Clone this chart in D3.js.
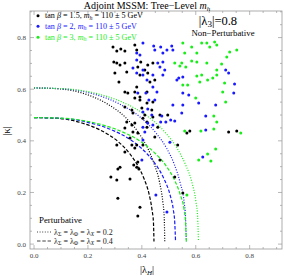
<!DOCTYPE html>
<html>
<head>
<meta charset="utf-8">
<script src="https://cdn.jsdelivr.net/npm/d3@7"></script>
<style>
  body { margin: 0; background: #fff; }
  text { font-family: "Liberation Serif", "Times New Roman", serif; }
</style>
</head>
<body>
<div id="chart"></div>
<script>
// scatter points [|lambda_H|, |kappa|]
var blackPts = [
  [0.293,0.764],[0.307,0.748],[0.322,0.756],[0.337,0.748],[0.296,0.705],[0.307,0.702],[0.319,0.694],
  [0.337,0.702],[0.300,0.663],[0.344,0.667],[0.315,0.628],[0.374,0.771],[0.381,0.752],[0.385,0.686],
  [0.393,0.655],[0.396,0.705],[0.422,0.694],[0.441,0.702],[0.411,0.674],[0.422,0.663],[0.430,0.628],
  [0.448,0.636],[0.337,0.589],[0.348,0.585],[0.374,0.589],[0.381,0.609],[0.419,0.589],[0.393,0.570],
  [0.374,0.566],[0.393,0.558],[0.419,0.547],[0.441,0.550],[0.400,0.527],[0.363,0.519],[0.337,0.531],
  [0.437,0.519],[0.441,0.492],[0.411,0.500],[0.467,0.500],[0.496,0.500],[0.367,0.508],[0.344,0.473],
  [0.363,0.461],[0.374,0.469],[0.419,0.473],[0.404,0.488],[0.459,0.453],[0.337,0.450],[0.367,0.434],
  [0.385,0.430],[0.419,0.453],[0.356,0.411],[0.448,0.415],[0.363,0.384],[0.381,0.384],[0.404,0.384],
  [0.307,0.384],[0.374,0.372],[0.337,0.357],[0.533,0.384],[0.567,0.430],[0.578,0.438],[0.722,0.434],
  [0.752,0.438],[0.319,0.298],[0.381,0.298],[0.467,0.326],[0.370,0.306],[0.389,0.291],[0.385,0.318],
  [0.285,0.260],[0.307,0.248],[0.311,0.291],[0.311,0.178],[0.356,0.252],[0.393,0.143],[0.385,0.109],
  [0.522,0.260],[0.552,0.198]
];
var bluePts = [
  [0.404,0.779],[0.381,0.740],[0.381,0.713],[0.393,0.733],[0.444,0.767],[0.448,0.752],[0.470,0.764],
  [0.511,0.767],[0.515,0.752],[0.478,0.740],[0.493,0.752],[0.459,0.702],[0.478,0.705],[0.367,0.682],
  [0.381,0.663],[0.404,0.674],[0.404,0.655],[0.441,0.655],[0.485,0.674],[0.478,0.655],[0.467,0.686],
  [0.530,0.636],[0.537,0.643],[0.552,0.647],[0.552,0.585],[0.574,0.578],[0.515,0.539],[0.552,0.539],
  [0.548,0.508],[0.611,0.547],[0.674,0.539],[0.744,0.620],[0.741,0.585],[0.711,0.674],[0.722,0.663],
  [0.441,0.609],[0.456,0.589],[0.415,0.585],[0.426,0.558],[0.448,0.558],[0.422,0.523],[0.437,0.500],
  [0.474,0.496],[0.489,0.473],[0.507,0.481],[0.522,0.477],[0.470,0.473],[0.637,0.496],[0.637,0.442],
  [0.441,0.461],[0.404,0.453],[0.411,0.434],[0.504,0.395],[0.626,0.337],[0.385,0.585],[0.419,0.636],
  [0.404,0.512],[0.422,0.469],[0.404,0.403],[0.400,0.326],[0.452,0.190],[0.493,0.124]
];
var greenPts = [
  [0.552,0.779],[0.559,0.740],[0.585,0.764],[0.604,0.740],[0.622,0.779],[0.641,0.779],[0.652,0.764],
  [0.670,0.783],[0.678,0.771],[0.726,0.744],[0.752,0.752],[0.715,0.725],[0.641,0.702],[0.604,0.705],
  [0.548,0.702],[0.522,0.702],[0.541,0.690],[0.563,0.686],[0.585,0.709],[0.696,0.698],[0.678,0.655],
  [0.678,0.674],[0.663,0.643],[0.644,0.636],[0.622,0.655],[0.604,0.651],[0.615,0.628],[0.552,0.616],
  [0.570,0.616],[0.707,0.624],[0.700,0.589],[0.600,0.566],[0.711,0.550],[0.667,0.496],[0.678,0.473],
  [0.559,0.438],[0.619,0.438],[0.667,0.446],[0.767,0.430],[0.674,0.368],[0.644,0.349],[0.611,0.326],
  [0.656,0.322],[0.567,0.190]
];

// perturbativity boundaries
var kappaDashed = [0.49,0.487,0.469,0.442,0.397,0.349,0.300,0.251,0.193,0.131,0.085,0.01];
var kappaDotted = [0.605,0.601,0.580,0.546,0.490,0.431,0.371,0.310,0.238,0.162,0.105,0.01];
var lamBlackDashed = [0,0.089,0.178,0.245,0.312,0.356,0.387,0.409,0.427,0.438,0.443,0.445];
var lamBlueDashed  = [0,0.105,0.210,0.289,0.368,0.420,0.457,0.483,0.504,0.517,0.522,0.525];
var lamGreenDashed = [0,0.113,0.226,0.311,0.396,0.452,0.492,0.520,0.542,0.557,0.562,0.565];
var lamBlackDotted = [0,0.097,0.194,0.267,0.340,0.388,0.422,0.446,0.466,0.478,0.483,0.485];
var lamBlueDotted  = [0,0.113,0.226,0.311,0.396,0.452,0.492,0.520,0.542,0.557,0.562,0.565];
var lamGreenDotted = [0,0.122,0.244,0.336,0.427,0.488,0.531,0.561,0.586,0.601,0.607,0.610];

var tickVals = [0.0, 0.2, 0.4, 0.6, 0.8];
var tickLabels = ["0.0", "0.2", "0.4", "0.6", "0.8"];

var W = 285, H = 276;
var svg = d3.select("#chart").append("svg")
  .attr("width", W).attr("height", H);
svg.append("rect").attr("width", W).attr("height", H).attr("fill", "#fff");

var x = d3.scaleLinear().domain([-0.015, 0.92]).range([30, 282]);
var y = d3.scaleLinear().domain([-0.019, 0.903]).range([249, 11]);

var frameCol = "#999", labCol = "#444";

// frame
svg.append("rect")
  .attr("x", 30).attr("y", 11).attr("width", 252).attr("height", 238)
  .attr("fill", "none").attr("stroke", frameCol).attr("stroke-width", 0.8);

// ticks (inward, all sides)
var minor = d3.range(0, 0.91, 0.05);
var tg = svg.append("g").attr("stroke", frameCol).attr("stroke-width", 0.7);
minor.forEach(function(v) {
  var major = Math.abs(v * 5 - Math.round(v * 5)) < 1e-6;
  var len = major ? 4 : 2;
  if (x(v) <= 282) {
    tg.append("line").attr("x1", x(v)).attr("x2", x(v)).attr("y1", 249).attr("y2", 249 - len);
    tg.append("line").attr("x1", x(v)).attr("x2", x(v)).attr("y1", 11).attr("y2", 11 + len);
  }
  if (y(v) >= 11) {
    tg.append("line").attr("y1", y(v)).attr("y2", y(v)).attr("x1", 30).attr("x2", 30 + len);
    tg.append("line").attr("y1", y(v)).attr("y2", y(v)).attr("x1", 282).attr("x2", 282 - len);
  }
});

svg.selectAll(".xl").data(tickVals).join("text")
  .attr("x", d => x(d)).attr("y", 258)
  .attr("text-anchor", "middle").attr("font-size", 7).attr("fill", labCol)
  .text((d, i) => tickLabels[i]);
svg.selectAll(".yl").data(tickVals).join("text")
  .attr("x", 26).attr("y", d => y(d) + 2.5)
  .attr("text-anchor", "end").attr("font-size", 7).attr("fill", labCol)
  .text((d, i) => tickLabels[i]);

// boundary curves
var line = d3.line().x(d => x(d[0])).y(d => y(d[1])).curve(d3.curveMonotoneX);
var curves = [
  { lam: lamBlackDashed, k: kappaDashed, c: "#000", dash: "3.5,1.8" },
  { lam: lamBlackDotted, k: kappaDotted, c: "#000", dash: "1,1.6" },
  { lam: lamBlueDashed, k: kappaDashed, c: "#1a1aff", dash: "3.5,1.8" },
  { lam: lamBlueDotted, k: kappaDotted, c: "#1a1aff", dash: "1,1.6" },
  { lam: lamGreenDashed, k: kappaDashed, c: "#1aee1a", dash: "3.5,1.8" },
  { lam: lamGreenDotted, k: kappaDotted, c: "#1aee1a", dash: "1,1.6" }
];
curves.forEach(function(cv) {
  svg.append("path")
    .datum(cv.lam.map((l, i) => [l, cv.k[i]]))
    .attr("d", line)
    .attr("fill", "none")
    .attr("stroke", cv.c)
    .attr("stroke-width", 1.2)
    .attr("stroke-dasharray", cv.dash);
});

// points
function dots(data, col) {
  svg.append("g").selectAll("circle").data(data).join("circle")
    .attr("cx", d => x(d[0])).attr("cy", d => y(d[1]))
    .attr("r", 1.5).attr("fill", col);
}
dots(blackPts, "#000");
dots(bluePts, "#1a1aff");
dots(greenPts, "#1aee1a");

// title
var t = svg.append("text").attr("x", 147).attr("y", 9)
  .attr("text-anchor", "middle").attr("font-size", 10);
t.append("tspan").text("Adjoint MSSM: Tree\u2212Level ");
t.append("tspan").attr("font-style", "italic").text("m");
t.append("tspan").attr("font-style", "italic").attr("font-size", 7).attr("dy", 2).text("h");

// legend for tan beta
var legRows = [
  { tb: "1.5", c: "#000", y: 18 },
  { tb: "2", c: "#1a1aff", y: 28.5 },
  { tb: "3", c: "#1aee1a", y: 39.5 }
];
legRows.forEach(function(r) {
  svg.append("circle").attr("cx", 38).attr("cy", r.y - 2.3).attr("r", 1.5).attr("fill", r.c);
  var tx = svg.append("text").attr("x", 45).attr("y", r.y)
    .attr("font-size", 8.1).attr("fill", r.c);
  tx.append("tspan").text("tan ");
  tx.append("tspan").attr("font-style", "italic").text("\u03b2");
  tx.append("tspan").text(" = " + r.tb + ", ");
  tx.append("tspan").attr("font-style", "italic").text("m");
  tx.append("tspan").attr("font-style", "italic").attr("font-size", 6).attr("dy", 1.5).text("h");
  tx.append("tspan").attr("dy", -1.5).text(" = 110 \u00b1 5 GeV");
});

// |lambda_3| = 0.8
var l3 = svg.append("text").attr("x", 218).attr("y", 24.5)
  .attr("text-anchor", "middle").attr("font-size", 12.5);
l3.append("tspan").text("|\u03bb");
l3.append("tspan").attr("font-size", 9).attr("dy", 2).text("3");
l3.append("tspan").attr("dy", -2).text("|=0.8");

svg.append("text").attr("x", 223).attr("y", 35.5)
  .attr("text-anchor", "middle").attr("font-size", 8.8)
  .text("Non\u2212Perturbative");

svg.append("text").attr("x", 39).attr("y", 223)
  .attr("font-size", 8.8).text("Perturbative");

// line-style legend
var styleRows = [
  { v: "0.2", dash: "1,1.6", y: 232 },
  { v: "0.4", dash: "3.5,1.8", y: 241 }
];
styleRows.forEach(function(r) {
  svg.append("line").attr("x1", 37).attr("x2", 51).attr("y1", r.y).attr("y2", r.y)
    .attr("stroke", "#444").attr("stroke-width", 1).attr("stroke-dasharray", r.dash);
  var tx = svg.append("text").attr("x", 54).attr("y", r.y + 2.5)
    .attr("font-size", 8).attr("fill", "#222");
  tx.append("tspan").text("\u03bb");
  tx.append("tspan").attr("font-size", 6).attr("dy", 1.5).text("\u03a3");
  tx.append("tspan").attr("dy", -1.5).text(" = \u03bb");
  tx.append("tspan").attr("font-size", 6).attr("dy", 1.5).text("\u03a6");
  tx.append("tspan").attr("dy", -1.5).text(" = \u03bb");
  tx.append("tspan").attr("font-size", 6).attr("font-style", "italic").attr("dy", 1.5).text("X");
  tx.append("tspan").attr("dy", -1.5).text(" = " + r.v);
});

// axis labels
var xl = svg.append("text").attr("x", 147).attr("y", 273)
  .attr("text-anchor", "middle").attr("font-size", 10);
xl.append("tspan").text("|\u03bb");
xl.append("tspan").attr("font-size", 7).attr("font-style", "italic").attr("dy", 2).text("H");
xl.append("tspan").attr("dy", -2).text("|");

svg.append("text")
  .attr("transform", "translate(10,131) rotate(-90)")
  .attr("text-anchor", "middle").attr("font-size", 10)
  .text("|\u03ba|");
</script>
</body>
</html>
